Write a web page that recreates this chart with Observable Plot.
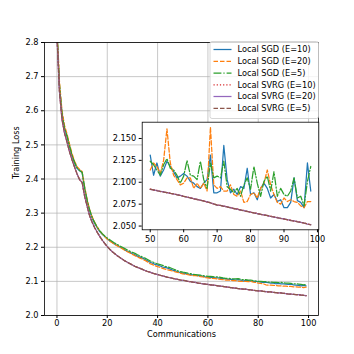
<!DOCTYPE html>
<html>
<head>
<meta charset="utf-8">
<script src="https://cdn.jsdelivr.net/npm/d3@7"></script>
<script src="https://cdn.jsdelivr.net/npm/@observablehq/plot@0.6"></script>
<style>
  html, body { margin: 0; padding: 0; background: #fff; }
  #wrap { position: relative; width: 354px; height: 354px; font-family: "DejaVu Sans", sans-serif; }
  #wrap svg { display: block; }
  #inset { position: absolute; left: 100px; top: 110px; }
</style>
</head>
<body>
<div id="wrap"><div id="main"></div><div id="inset"></div></div>
<script>
// ---------- data ----------
const seriesNames = ["Local SGD (E=10)", "Local SGD (E=20)", "Local SGD (E=5)", "Local SVRG (E=10)", "Local SVRG (E=20)", "Local SVRG (E=5)"];
const seriesColors = ["#1f77b4", "#ff7f0e", "#2ca02c", "#d62728", "#9467bd", "#8c564b"];
const seriesDash = [null, "4.5,2", "7.9,2,1.2,2", "1.2,2", null, "4.5,2"];

const communications = d3.range(0, 100);

const sgd10 = [2.83,2.67,2.59,2.548,2.525,2.495,2.468,2.447,2.431,2.424,
  2.419,2.372,2.336,2.306,2.285,2.270,2.257,2.246,2.238,2.231,
  2.224,2.219,2.214,2.209,2.205,2.201,2.197,2.192,2.188,2.185,
  2.181,2.178,2.174,2.171,2.168,2.164,2.160,2.156,2.153,2.150,
  2.148,2.145,2.142,2.141,2.139,2.136,2.133,2.131,2.128,2.126,
  2.124,2.123,2.121,2.120,2.119,2.118,2.117,2.116,2.115,2.113,
  2.112,2.112,2.111,2.110,2.110,2.109,2.108,2.107,2.106,2.106,
  2.105,2.104,2.105,2.104,2.101,2.103,2.102,2.101,2.100,2.100,
  2.099,2.098,2.097,2.098,2.096,2.095,2.095,2.093,2.094,2.093,
  2.093,2.092,2.091,2.092,2.090,2.089,2.088,2.087,2.088,2.087];
const sgd20 = [2.85,2.685,2.60,2.557,2.532,2.502,2.474,2.452,2.436,2.428,
  2.422,2.377,2.340,2.310,2.289,2.273,2.259,2.248,2.239,2.231,
  2.224,2.218,2.213,2.208,2.204,2.200,2.196,2.191,2.187,2.183,
  2.179,2.175,2.172,2.168,2.165,2.161,2.157,2.152,2.149,2.146,
  2.143,2.141,2.138,2.136,2.134,2.132,2.130,2.128,2.126,2.124,
  2.122,2.121,2.120,2.118,2.117,2.117,2.116,2.114,2.113,2.111,
  2.110,2.109,2.109,2.108,2.107,2.106,2.105,2.104,2.104,2.103,
  2.102,2.102,2.101,2.100,2.100,2.100,2.099,2.100,2.098,2.097,
  2.095,2.094,2.093,2.090,2.089,2.089,2.088,2.088,2.087,2.087,
  2.086,2.086,2.085,2.085,2.084,2.084,2.083,2.083,2.082,2.083];
const sgd5 = [2.84,2.675,2.592,2.55,2.526,2.497,2.470,2.449,2.433,2.425,
  2.420,2.375,2.338,2.309,2.288,2.272,2.259,2.249,2.240,2.233,
  2.227,2.222,2.217,2.212,2.208,2.204,2.200,2.196,2.192,2.188,
  2.185,2.182,2.178,2.175,2.171,2.168,2.164,2.160,2.157,2.154,
  2.151,2.149,2.147,2.144,2.142,2.140,2.137,2.134,2.131,2.129,
  2.127,2.126,2.124,2.123,2.121,2.120,2.119,2.118,2.117,2.116,
  2.115,2.115,2.114,2.113,2.113,2.112,2.110,2.109,2.109,2.108,
  2.107,2.107,2.108,2.106,2.105,2.105,2.104,2.104,2.102,2.101,
  2.100,2.100,2.099,2.099,2.098,2.098,2.097,2.097,2.096,2.097,
  2.096,2.095,2.095,2.094,2.093,2.093,2.092,2.091,2.090,2.091];
const svrg10 = [2.82,2.655,2.575,2.535,2.508,2.480,2.456,2.435,2.415,2.398,
  2.390,2.350,2.320,2.292,2.273,2.257,2.244,2.232,2.221,2.211,
  2.202,2.194,2.187,2.181,2.175,2.170,2.165,2.160,2.156,2.152,
  2.148,2.144,2.141,2.138,2.135,2.132,2.129,2.127,2.124,2.122,
  2.120,2.118,2.116,2.114,2.112,2.111,2.109,2.107,2.106,2.104,
  2.103,2.102,2.100,2.099,2.098,2.097,2.095,2.094,2.093,2.092,
  2.091,2.090,2.089,2.088,2.087,2.086,2.085,2.084,2.083,2.082,
  2.081,2.080,2.079,2.078,2.077,2.077,2.076,2.075,2.074,2.073,
  2.072,2.072,2.071,2.070,2.069,2.069,2.068,2.067,2.066,2.066,
  2.065,2.064,2.063,2.063,2.062,2.061,2.061,2.060,2.059,2.058];
const svrg20 = [2.82,2.655,2.575,2.535,2.508,2.480,2.456,2.435,2.415,2.398,
  2.390,2.350,2.320,2.292,2.273,2.257,2.244,2.232,2.221,2.211,
  2.202,2.194,2.187,2.181,2.175,2.170,2.165,2.160,2.156,2.152,
  2.148,2.144,2.141,2.138,2.135,2.132,2.129,2.127,2.124,2.122,
  2.120,2.118,2.116,2.114,2.112,2.111,2.109,2.107,2.106,2.104,
  2.103,2.102,2.100,2.099,2.098,2.097,2.095,2.094,2.093,2.092,
  2.091,2.090,2.089,2.088,2.087,2.086,2.085,2.084,2.083,2.082,
  2.081,2.080,2.079,2.078,2.077,2.077,2.076,2.075,2.074,2.073,
  2.072,2.072,2.071,2.070,2.069,2.069,2.068,2.067,2.066,2.066,
  2.065,2.064,2.063,2.063,2.062,2.061,2.061,2.060,2.059,2.058];
const svrg5 = [2.82,2.655,2.575,2.535,2.508,2.480,2.456,2.435,2.415,2.398,
  2.390,2.350,2.320,2.292,2.273,2.257,2.244,2.232,2.221,2.211,
  2.202,2.194,2.187,2.181,2.175,2.170,2.165,2.160,2.156,2.152,
  2.148,2.144,2.141,2.138,2.135,2.132,2.129,2.127,2.124,2.122,
  2.120,2.118,2.116,2.114,2.112,2.111,2.109,2.107,2.106,2.104,
  2.103,2.102,2.100,2.099,2.098,2.097,2.095,2.094,2.093,2.092,
  2.091,2.090,2.089,2.088,2.087,2.086,2.085,2.084,2.083,2.082,
  2.081,2.080,2.079,2.078,2.077,2.077,2.076,2.075,2.074,2.073,
  2.072,2.072,2.071,2.070,2.069,2.069,2.068,2.067,2.066,2.066,
  2.065,2.064,2.063,2.063,2.062,2.061,2.061,2.060,2.059,2.058];

// inset (zoom on communications 50..98)
const insetCommunications = d3.range(50, 99);
const insetSgd10 = [2.131,2.108,2.122,2.107,2.114,2.124,2.118,2.112,2.105,2.107,
  2.110,2.107,2.101,2.099,2.095,2.093,2.099,2.103,2.131,2.088,
  2.088,2.090,2.142,2.103,2.088,2.092,2.086,2.095,2.093,2.116,
  2.086,2.088,2.080,2.093,2.099,2.093,2.082,2.086,2.078,2.080,
  2.071,2.071,2.077,2.105,2.079,2.077,2.071,2.122,2.090];
const insetSgd20 = [2.114,2.122,2.118,2.110,2.125,2.161,2.122,2.108,2.103,2.097,
  2.099,2.105,2.105,2.093,2.099,2.093,2.099,2.090,2.163,2.097,
  2.093,2.095,2.090,2.090,2.097,2.086,2.084,2.090,2.077,2.078,
  2.086,2.088,2.082,2.093,2.099,2.114,2.097,2.086,2.077,2.075,
  2.082,2.078,2.080,2.078,2.077,2.073,2.071,2.078,2.078];
const insetSgd5 = [2.124,2.120,2.114,2.108,2.120,2.127,2.116,2.114,2.108,2.099,
  2.107,2.125,2.108,2.107,2.103,2.124,2.103,2.093,2.122,2.105,
  2.107,2.105,2.124,2.095,2.092,2.088,2.093,2.084,2.097,2.105,
  2.092,2.118,2.099,2.084,2.101,2.107,2.090,2.112,2.084,2.093,
  2.086,2.084,2.090,2.105,2.082,2.084,2.073,2.101,2.118];
const insetSvrg10 = [2.0923,2.0910,2.0907,2.0894,2.0893,2.0880,2.0877,2.0864,2.0860,2.0848,
  2.0842,2.0829,2.0825,2.0810,2.0806,2.0793,2.0789,2.0774,2.0768,2.0750,
  2.0743,2.0733,2.0730,2.0716,2.0713,2.0698,2.0696,2.0681,2.0678,2.0665,
  2.0661,2.0648,2.0646,2.0632,2.0630,2.0618,2.0614,2.0601,2.0599,2.0586,
  2.0584,2.0571,2.0568,2.0556,2.0553,2.0541,2.0538,2.0521,2.0517];
const insetSvrg20 = [2.0920,2.0912,2.0905,2.0896,2.0890,2.0882,2.0874,2.0866,2.0858,2.0850,
  2.0840,2.0831,2.0822,2.0812,2.0804,2.0795,2.0786,2.0776,2.0766,2.0752,
  2.0740,2.0735,2.0727,2.0718,2.0710,2.0700,2.0693,2.0683,2.0675,2.0667,
  2.0658,2.0650,2.0643,2.0634,2.0627,2.0620,2.0611,2.0603,2.0596,2.0588,
  2.0581,2.0573,2.0565,2.0558,2.0550,2.0543,2.0535,2.0523,2.0515];
const insetSvrg5 = [2.0918,2.0913,2.0903,2.0897,2.0888,2.0883,2.0872,2.0867,2.0856,2.0851,
  2.0838,2.0832,2.0820,2.0813,2.0802,2.0796,2.0784,2.0777,2.0764,2.0753,
  2.0738,2.0736,2.0725,2.0719,2.0708,2.0701,2.0691,2.0684,2.0673,2.0668,
  2.0656,2.0651,2.0641,2.0635,2.0625,2.0621,2.0609,2.0604,2.0594,2.0589,
  2.0579,2.0574,2.0563,2.0559,2.0548,2.0544,2.0533,2.0524,2.0513];

const xTicks = [0, 20, 40, 60, 80, 100];
const yTicks = [2.0, 2.1, 2.2, 2.3, 2.4, 2.5, 2.6, 2.7, 2.8];
const insetXTicks = [50, 60, 70, 80, 90, 100];
const insetYTicks = [2.050, 2.075, 2.100, 2.125, 2.150];
const xLabel = "Communications";
const yLabel = "Training Loss";

// ---------- build ----------
const mainSeries = [sgd10, sgd20, sgd5, svrg10, svrg20, svrg5];
const insetSeries = [insetSgd10, insetSgd20, insetSgd5, insetSvrg10, insetSvrg20, insetSvrg5];
const FONT = "DejaVu Sans";
const FS = 8.2;
const LW = 1.25;

function lineMarks(xs, arrs, clip) {
  return arrs.map((vals, k) => Plot.line(vals.map((v, i) => ({x: xs[i], y: v})), {
    x: "x", y: "y", stroke: seriesColors[k], strokeWidth: LW,
    strokeDasharray: seriesDash[k] || undefined, clip
  }));
}

const mainPlot = Plot.plot({
  width: 354, height: 354,
  marginLeft: 44, marginRight: 36, marginTop: 42, marginBottom: 39,
  style: {fontFamily: FONT, fontSize: FS + "px", background: "#fff", color: "#000"},
  x: {domain: [-4.95, 103.95], label: null},
  y: {domain: [2.0, 2.8], label: null},
  marks: [
    Plot.gridX({ticks: xTicks, stroke: "#b0b0b0", strokeOpacity: 1, strokeWidth: 0.7}),
    Plot.gridY({ticks: yTicks, stroke: "#b0b0b0", strokeOpacity: 1, strokeWidth: 0.7}),
    ...lineMarks(communications, mainSeries, true),
    Plot.frame({stroke: "#000", strokeWidth: 0.8}),
    Plot.axisX({ticks: xTicks, tickSize: 3, tickPadding: 2, fontSize: FS, label: null}),
    Plot.axisY({ticks: yTicks, tickSize: 3, tickPadding: 3, fontSize: FS, label: null, tickFormat: d => d.toFixed(1)}),
    Plot.text([xLabel], {frameAnchor: "bottom", dy: 21.5, fontSize: FS, fill: "#000"}),
    Plot.text([yLabel], {frameAnchor: "left", dx: -28, rotate: -90, fontSize: FS, fill: "#000"})
  ]
});
document.getElementById("main").appendChild(mainPlot);

// legend drawn inside main svg (upper right)
{
  const svg = d3.select(mainPlot);
  const g = svg.append("g").attr("font-family", FONT).attr("font-size", FS).attr("text-anchor", "start");
  g.append("rect").attr("x", 210).attr("y", 41.5).attr("width", 108.5).attr("height", 77)
    .attr("rx", 2).attr("fill", "#fff").attr("fill-opacity", 0.8).attr("stroke", "#cccccc").attr("stroke-width", 0.8);
  seriesNames.forEach((name, k) => {
    const cy = 49.5 + k * 11.75;
    g.append("line").attr("x1", 213.5).attr("x2", 231.5).attr("y1", cy).attr("y2", cy)
      .attr("stroke", seriesColors[k]).attr("stroke-width", LW)
      .attr("stroke-dasharray", seriesDash[k]);
    g.append("text").attr("x", 237.5).attr("y", cy).attr("dy", "0.35em")
      .attr("text-anchor", "start").attr("fill", "#000").text(name);
  });
}

// inset axes
const insetAll = insetSeries.flat();
const iMin = d3.min(insetAll), iMax = d3.max(insetAll), iPad = (iMax - iMin) * 0.05;
const insetPlot = Plot.plot({
  width: 230, height: 140,
  marginLeft: 41.7, marginRight: 11.7, marginTop: 11.7, marginBottom: 20.7,
  style: {fontFamily: FONT, fontSize: FS + "px", background: "transparent", color: "#000", overflow: "visible"},
  x: {domain: [47.6, 100.4], label: null},
  y: {domain: [iMin - iPad, iMax + iPad], label: null},
  marks: [
    Plot.frame({fill: "#fff", stroke: null}),
    ...lineMarks(insetCommunications, insetSeries, true),
    Plot.frame({stroke: "#000", strokeWidth: 0.8}),
    Plot.axisX({ticks: insetXTicks, tickSize: 3, tickPadding: 3, fontSize: FS, label: null}),
    Plot.axisY({ticks: insetYTicks, tickSize: 3, tickPadding: 3, fontSize: FS, label: null, tickFormat: d => d.toFixed(3)})
  ]
});
document.getElementById("inset").appendChild(insetPlot);
</script>
</body>
</html>
